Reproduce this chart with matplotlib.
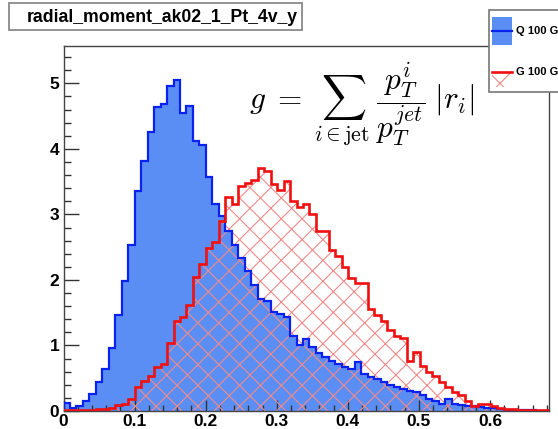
import numpy as np
import matplotlib
matplotlib.use('Agg')
import matplotlib.pyplot as plt
from matplotlib.patches import Rectangle
from matplotlib.lines import Line2D
from matplotlib.ticker import MultipleLocator, FixedLocator

# ---------------- data ----------------
title = "radial_moment_ak02_1_Pt_4v_y"
legend_labels = ["Q 100 GeV", "G 100 GeV"]
x_range = (0.0, 0.683)
quark = [0.12, 0.04, 0.08, 0.15, 0.26, 0.45, 0.64, 0.96, 1.46, 1.98,
         2.54, 3.36, 3.82, 4.26, 4.64, 4.69, 4.96, 5.05, 4.55, 4.66,
         4.12, 4.06, 3.57, 3.16, 2.98, 2.75, 2.54, 2.33, 2.13, 1.93,
         1.71, 1.68, 1.51, 1.48, 1.43, 1.15, 1.00, 1.10, 0.97, 0.88,
         0.82, 0.77, 0.72, 0.67, 0.64, 0.75, 0.57, 0.52, 0.49, 0.44,
         0.39, 0.36, 0.34, 0.31, 0.29, 0.24, 0.19, 0.16, 0.11, 0.19,
         0.11, 0.09, 0.08, 0.07, 0.06, 0.05, 0.04, 0.03, 0.02, 0.02,
         0.01, 0.01, 0.01, 0.005, 0.005]
gluon = [0.02, 0.01, 0.01, 0.01, 0.02, 0.03, 0.03, 0.05, 0.09, 0.11,
         0.18, 0.37, 0.46, 0.54, 0.67, 0.72, 1.04, 1.38, 1.44, 1.62,
         2.04, 2.24, 2.48, 2.58, 2.90, 3.26, 3.16, 3.44, 3.48, 3.52,
         3.71, 3.66, 3.47, 3.37, 3.51, 3.21, 3.12, 3.16, 3.00, 2.75,
         2.75, 2.45, 2.36, 2.20, 2.03, 1.95, 1.95, 1.56, 1.46, 1.38,
         1.23, 1.15, 1.12, 0.77, 0.90, 0.69, 0.59, 0.53, 0.44, 0.37,
         0.29, 0.24, 0.16, 0.08, 0.11, 0.11, 0.08, 0.04, 0.03, 0.03,
         0.02, 0.01, 0.01, 0.01, 0.02]
xticks = [0, 0.1, 0.2, 0.3, 0.4, 0.5, 0.6]
xticklabels = ["0", "0.1", "0.2", "0.3", "0.4", "0.5", "0.6"]
yticks = [0, 1, 2, 3, 4, 5]
y_max = 5.57

# ---------------- style ----------------
plt.rcParams['font.family'] = ['Liberation Sans', 'DejaVu Sans']
plt.rcParams['mathtext.fontset'] = 'cm'

W, H = 558, 429
DPI = 125                     # chosen so that the hatch spacing matches
S = 100.0 / DPI               # convert "points at 100 dpi" to real points


def pt(v):
    return v * S


plt.rcParams['hatch.linewidth'] = pt(0.8)

fig = plt.figure(figsize=(W / DPI, H / DPI), dpi=DPI)
fig.patch.set_facecolor('white')


def fx(px):
    return px / W


def fy(py):
    return 1 - py / H


ax = fig.add_axes([fx(63.5), fy(411), fx(549) - fx(63.5), fy(46) - fy(411)])

edges = np.linspace(x_range[0], x_range[1], len(quark) + 1)
blue_fill = '#5b8ef5'
blue_line = '#0a22ee'
red_line = '#f01010'
red_hatch = '#f08a8a'

ax.stairs(quark, edges, fill=True, facecolor=blue_fill, edgecolor='none',
          linewidth=0, zorder=1)
ax.stairs(gluon, edges, fill=True, facecolor='none', edgecolor=red_hatch,
          hatch='xx', linewidth=0, zorder=2)
ax.stairs(quark, edges, color=blue_line, linewidth=pt(1.6), zorder=3)
ax.stairs(gluon, edges, color=red_line, linewidth=pt(1.9), zorder=4)

ax.set_xlim(*x_range)
ax.set_ylim(0, y_max)

ax.xaxis.set_major_locator(FixedLocator(xticks))
ax.set_xticklabels(xticklabels)
ax.xaxis.set_minor_locator(MultipleLocator(0.02))
ax.yaxis.set_major_locator(FixedLocator(yticks))
ax.yaxis.set_minor_locator(MultipleLocator(0.2))

ax.tick_params(axis='both', which='both', direction='in', top=False,
               right=False, colors='#333333', width=pt(1.0))
ax.tick_params(axis='y', which='major', length=pt(10.5), pad=pt(3))
ax.tick_params(axis='y', which='minor', length=pt(5))
ax.tick_params(axis='x', which='major', length=pt(8), pad=pt(2))
ax.tick_params(axis='x', which='minor', length=pt(4))
for lab in ax.get_xticklabels() + ax.get_yticklabels():
    lab.set_fontweight('bold')
    lab.set_fontsize(pt(12.5))
    lab.set_color('black')
for sp in ax.spines.values():
    sp.set_color('#444444')
    sp.set_linewidth(pt(1.0))

# formula
fig.text(fx(249), fy(104),
         r'$g\; =\; \sum_{i\in\mathrm{jet}}\;\dfrac{p_T^i}{p_T^{jet}}\;|r_i|$',
         fontsize=pt(22.5), ha='left', va='center')

# title box
fig.add_artist(Rectangle((fx(9), fy(30)), fx(302) - fx(9), (30 - 3) / H,
                         transform=fig.transFigure, facecolor='white',
                         edgecolor='#8a8a8a', linewidth=pt(1.3), zorder=10))
fig.text(fx(162), fy(17), title, fontsize=pt(12.7), fontweight='bold',
         ha='center', va='center', zorder=11)

# legend box (cropped by the figure edge, as in the reference)
fig.add_artist(Rectangle((fx(489), fy(92)), fx(600) - fx(489), (92 - 10) / H,
                         transform=fig.transFigure, facecolor='white',
                         edgecolor='#777777', linewidth=pt(1.2), zorder=10,
                         clip_on=False))
fig.add_artist(Rectangle((fx(492), fy(45)), fx(512) - fx(492), (45 - 17) / H,
                         transform=fig.transFigure, facecolor=blue_fill,
                         edgecolor='none', zorder=11))
fig.add_artist(Line2D([fx(492), fx(512)], [fy(31), fy(31)],
                      transform=fig.transFigure, color=blue_line,
                      linewidth=pt(1.6), zorder=12))
fig.add_artist(Rectangle((fx(492), fy(87)), fx(512) - fx(492), (87 - 58) / H,
                         transform=fig.transFigure, facecolor='white',
                         edgecolor=red_hatch, hatch='x', linewidth=0,
                         zorder=11))
fig.add_artist(Line2D([fx(492), fx(512)], [fy(72), fy(72)],
                      transform=fig.transFigure, color=red_line,
                      linewidth=pt(1.9), zorder=12))
fig.text(fx(516), fy(31), legend_labels[0], fontsize=pt(8), fontweight='bold',
         ha='left', va='center', zorder=12)
fig.text(fx(516), fy(72), legend_labels[1], fontsize=pt(8), fontweight='bold',
         ha='left', va='center', zorder=12)

fig.savefig('out.png', dpi=DPI, facecolor='white')
